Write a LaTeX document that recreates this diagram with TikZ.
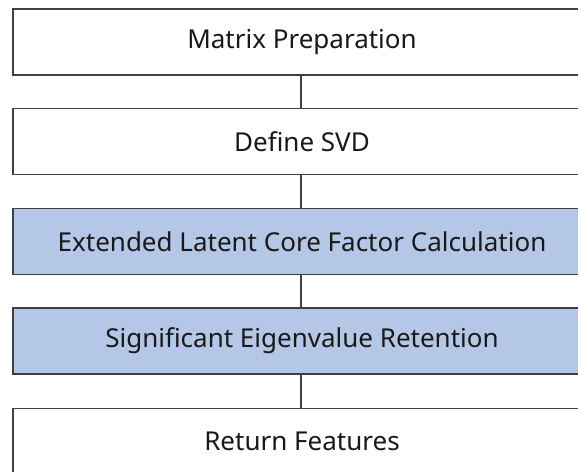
\documentclass[tikz,border=0pt]{standalone}
\usepackage{fontspec}
\setmainfont{Noto Sans}
\definecolor{boxblue}{RGB}{180,199,231}
\definecolor{edge}{RGB}{64,64,64}
\tikzset{
  stepbox/.style={draw=edge, line width=1.3pt, fill=white, minimum width=578pt, minimum height=66pt, inner sep=0pt, font=\fontsize{26}{30}\selectfont, text=black!90},
  bluebox/.style={stepbox, fill=boxblue},
  link/.style={draw=edge, line width=1.1pt}
}
\begin{document}
\begin{tikzpicture}[x=1pt,y=1pt]
\useasboundingbox (0,0) rectangle (578,-471);
\clip (0,0) rectangle (578,-471);
\node[stepbox] (a) at (302,-42) {Matrix Preparation};
\node[stepbox] (b) at (302,-141.5) {Define SVD};
\node[bluebox] (c) at (302,-241.5) {Extended Latent Core Factor Calculation};
\node[bluebox] (d) at (302,-341) {Significant Eigenvalue Retention};
\node[stepbox] (e) at (302,-441.5) {Return Features};
\draw[link] (a.south -| 301,0) -- (b.north -| 301,0);
\draw[link] (b.south -| 301,0) -- (c.north -| 301,0);
\draw[link] (c.south -| 301,0) -- (d.north -| 301,0);
\draw[link] (d.south -| 301,0) -- (e.north -| 301,0);
\end{tikzpicture}
\end{document}
